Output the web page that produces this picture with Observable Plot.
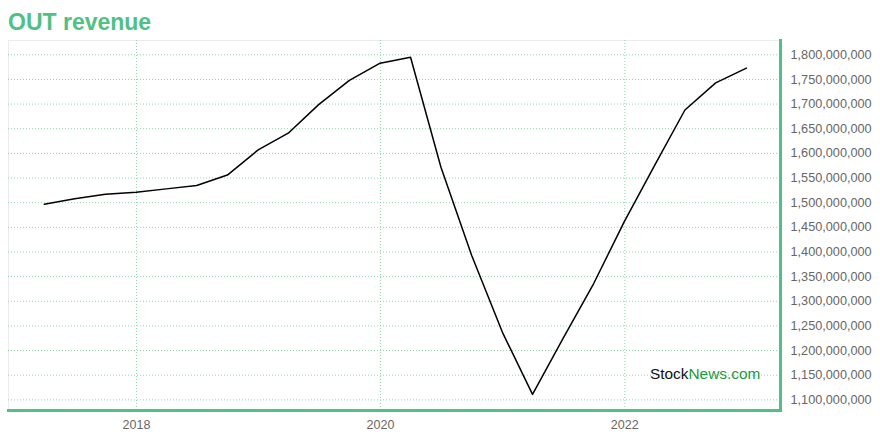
<!DOCTYPE html>
<html>
<head>
<meta charset="utf-8">
<script src="https://cdn.jsdelivr.net/npm/d3@7"></script>
<script src="https://cdn.jsdelivr.net/npm/@observablehq/plot@0.6"></script>
<style>
  html, body { margin: 0; padding: 0; background: #fff; width: 880px; height: 440px; overflow: hidden; }
  body { position: relative; font-family: "Liberation Sans", Arial, Helvetica, sans-serif; }
  #title { position: absolute; left: 8px; top: 11px; font-size: 23px; line-height: 23px; font-weight: bold; color: #4fc182; white-space: nowrap; }
  #chart { position: absolute; left: 0; top: 36px; }
  #mark { position: absolute; left: 650px; top: 366px; font-size: 15.4px; line-height: 15px; color: #111; white-space: nowrap; }
  #mark span { color: #1a9b3c; }
</style>
</head>
<body>
<div id="title">OUT revenue</div>
<div id="chart"></div>
<div id="mark">Stock<span>News.com</span></div>
<script>
// Quarter-end dates and revenue (USD)
const dates = [
  "2017-03-31","2017-06-30","2017-09-30","2017-12-31",
  "2018-03-31","2018-06-30","2018-09-30","2018-12-31",
  "2019-03-31","2019-06-30","2019-09-30","2019-12-31",
  "2020-03-31","2020-06-30","2020-09-30","2020-12-31",
  "2021-03-31","2021-06-30","2021-09-30","2021-12-31",
  "2022-03-31","2022-06-30","2022-09-30","2022-12-31"
];
const revenue = [
  1497e6, 1508e6, 1517e6, 1521e6,
  1528e6, 1535e6, 1556e6, 1607e6,
  1641e6, 1699e6, 1748e6, 1783e6,
  1795e6, 1572e6, 1393e6, 1237e6,
  1111e6, 1224e6, 1336e6, 1462e6,
  1575e6, 1688e6, 1743e6, 1773e6
];
const xTickYears = ["2018-01-01", "2020-01-01", "2022-01-01"];
const yTicks = [1100e6, 1150e6, 1200e6, 1250e6, 1300e6, 1350e6, 1400e6, 1450e6,
                1500e6, 1550e6, 1600e6, 1650e6, 1700e6, 1750e6, 1800e6];

const data = dates.map((d, i) => ({date: new Date(d), value: revenue[i]}));
const xTicks = xTickYears.map(d => new Date(d));

const GREEN = "#4fc182";
const GRID = "#8fd6ab";

const chart = Plot.plot({
  width: 880,
  height: 404,
  marginTop: 4,
  marginBottom: 30,
  marginLeft: 8,
  marginRight: 100,
  style: {fontFamily: "Liberation Sans, Arial, sans-serif", fontSize: "12.5px", color: "#666", background: "#fff"},
  x: {type: "utc", domain: [new Date("2016-12-14"), new Date("2023-04-12")]},
  y: {domain: [1078.4e6, 1829e6]},
  marks: [
    Plot.frame({stroke: "#ececec", strokeWidth: 1}),
    Plot.gridX(xTicks, {stroke: GRID, strokeOpacity: 1, strokeDasharray: "1,2"}),
    Plot.gridY(yTicks, {stroke: GRID, strokeOpacity: 1, strokeDasharray: "1,2"}),
    Plot.axisX(xTicks, {tickFormat: d3.utcFormat("%Y"), tickSize: 0, tickPadding: 10, label: null, fill: "#666", fontSize: 12.5}),
    Plot.axisY(yTicks, {anchor: "right", tickFormat: d3.format(","), tickSize: 0, tickPadding: 10, label: null, fill: "#666", fontSize: 12.7}),
    Plot.line(data, {x: "date", y: "value", stroke: "#000", strokeWidth: 1.5}),
    Plot.frame({anchor: "right", stroke: GREEN, strokeWidth: 3}),
    Plot.frame({anchor: "bottom", stroke: GREEN, strokeWidth: 3})
  ]
});
document.getElementById("chart").appendChild(chart);
</script>
</body>
</html>
